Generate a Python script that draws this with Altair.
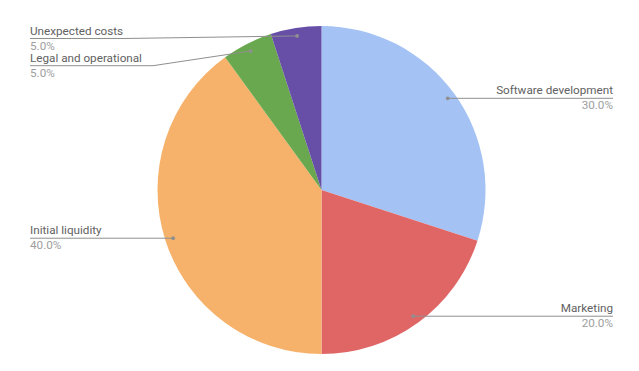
import math
import altair as alt
import pandas as pd

# ---- data ----
categories = ["Software development", "Marketing", "Initial liquidity",
              "Legal and operational", "Unexpected costs"]
values = [30, 20, 40, 5, 5]
colors = ["#a4c2f4", "#e06666", "#f6b26b", "#6aa84f", "#674ea7"]
pct_labels = ["30.0%", "20.0%", "40.0%", "5.0%", "5.0%"]

# ---- layout (pixels) ----
W, H = 639, 371
CX, CY, R = 321.5, 190, 164
DOT_R = 156
# per category: (line end x, line y, elbow x or None, align)
layout = {
    "Software development": (613, None, None, "right"),
    "Marketing": (613, None, None, "right"),
    "Initial liquidity": (30, None, None, "left"),
    "Legal and operational": (30, 65.7, 153, "left"),
    "Unexpected costs": (30, 38.5, 124, "left"),
}

pie_df = pd.DataFrame({"category": categories, "value": values,
                       "color": colors, "idx": list(range(len(categories)))})

total = sum(values)
cum = 0
dots, lines, texts = [], [], []
for cat, v, p in zip(categories, values, pct_labels):
    mid = (cum + v / 2) / total
    cum += v
    ang = 2 * math.pi * mid
    dx = CX + DOT_R * math.sin(ang)
    dy = CY - DOT_R * math.cos(ang)
    dots.append({"category": cat, "px": dx, "py": dy})
    end_x, line_y, elbow_x, align = layout[cat]
    if line_y is None:
        line_y = dy
    pts = [(dx, dy)]
    if elbow_x is not None:
        pts.append((elbow_x, line_y))
    pts.append((end_x, line_y))
    for i, (x, y) in enumerate(pts):
        lines.append({"category": cat, "seq": i, "px": x, "py": y})
    texts.append({"category": cat, "px": end_x, "py": line_y - 4, "text": cat,
                  "tcolor": "#616161", "align": align})
    texts.append({"category": cat, "px": end_x, "py": line_y + 11, "text": p,
                  "tcolor": "#9e9e9e", "align": align})

dots_df = pd.DataFrame(dots)
lines_df = pd.DataFrame(lines)
texts_df = pd.DataFrame(texts)

pie = alt.Chart(pie_df).mark_arc(outerRadius=R).encode(
    theta=alt.Theta("value:Q", stack=True),
    color=alt.Color("color:N", scale=None),
    order=alt.Order("idx:Q"),
    x=alt.value(CX),
    y=alt.value(CY),
)

leader = alt.Chart(lines_df).mark_line(strokeWidth=1, color="#8f8f8f").encode(
    x=alt.X("px:Q", scale=None, axis=None),
    y=alt.Y("py:Q", scale=None, axis=None),
    detail="category:N",
    order="seq:Q",
)

dot = alt.Chart(dots_df).mark_circle(size=14, color="#8f8f8f", opacity=1).encode(
    x=alt.X("px:Q", scale=None, axis=None),
    y=alt.Y("py:Q", scale=None, axis=None),
)

def text_layer(align):
    return alt.Chart(texts_df[texts_df["align"] == align]).mark_text(
        align=align, baseline="alphabetic", font="Roboto", fontSize=11.7
    ).encode(
        x=alt.X("px:Q", scale=None, axis=None),
        y=alt.Y("py:Q", scale=None, axis=None),
        text="text:N",
        color=alt.Color("tcolor:N", scale=None),
    )

chart = alt.layer(pie, leader, dot, text_layer("left"), text_layer("right")).properties(
    width=W, height=H, padding=0, autosize=alt.AutoSizeParams(type="none"),
    background="white",
).configure_view(stroke=None)

chart.save("out.html", embed_options={"renderer": "svg", "actions": False})
